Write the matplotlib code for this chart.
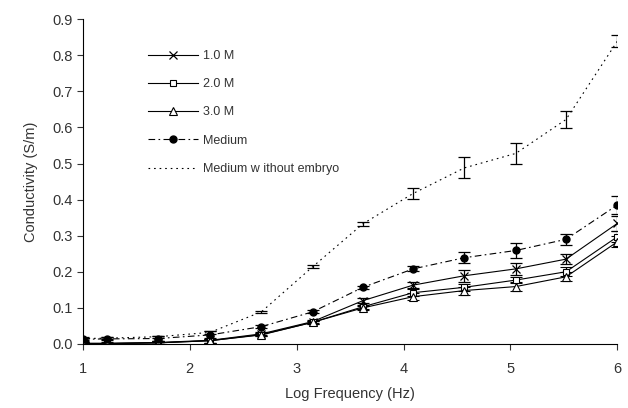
import numpy as np
import matplotlib.pyplot as plt

plt.rcParams['font.family'] = ['Liberation Sans', 'DejaVu Sans']

log_freq = [1.0, 1.23, 1.70, 2.19, 2.67, 3.15, 3.62, 4.09, 4.57, 5.05, 5.52, 6.0]

m10 = [0.002, 0.002, 0.004, 0.010, 0.028, 0.062, 0.120, 0.163, 0.189, 0.208, 0.235, 0.334]
m10_err = [0.004, 0.003, 0.004, 0.006, 0.004, 0.004, 0.006, 0.009, 0.016, 0.016, 0.014, 0.020]

m20 = [0.001, 0.001, 0.003, 0.009, 0.026, 0.060, 0.103, 0.142, 0.157, 0.177, 0.200, 0.297]
m20_err = [0.004, 0.003, 0.004, 0.005, 0.004, 0.004, 0.006, 0.009, 0.010, 0.009, 0.012, 0.015]

m30 = [0.001, 0.001, 0.003, 0.009, 0.025, 0.060, 0.100, 0.131, 0.148, 0.159, 0.186, 0.283]
m30_err = [0.004, 0.003, 0.004, 0.005, 0.004, 0.004, 0.006, 0.010, 0.011, 0.013, 0.012, 0.015]

medium = [0.013, 0.014, 0.015, 0.025, 0.048, 0.089, 0.157, 0.208, 0.239, 0.259, 0.290, 0.385]
medium_err = [0.004, 0.004, 0.006, 0.010, 0.005, 0.004, 0.004, 0.007, 0.015, 0.020, 0.015, 0.024]

no_embryo = [0.015, 0.016, 0.020, 0.032, 0.089, 0.214, 0.333, 0.417, 0.488, 0.528, 0.622, 0.839]
no_embryo_err = [0.003, 0.003, 0.003, 0.004, 0.003, 0.004, 0.006, 0.015, 0.029, 0.030, 0.024, 0.016]

fig = plt.figure(figsize=(6.28, 4.08), dpi=100)
ax = fig.add_axes([0.132, 0.157, 0.851, 0.796])

common = dict(color='black', lw=0.8, elinewidth=0.9, capsize=4, capthick=0.9)
c1 = ax.errorbar(log_freq, m10, yerr=m10_err, marker='x', ms=6, mew=0.9, **common)
c2 = ax.errorbar(log_freq, m20, yerr=m20_err, marker='s', ms=5, mfc='white', mew=0.8, **common)
c3 = ax.errorbar(log_freq, m30, yerr=m30_err, marker='^', ms=6, mfc='white', mew=0.8, **common)
c4 = ax.errorbar(log_freq, medium, yerr=medium_err, marker='o', ms=5,
                 ls=(0, (6, 3, 1.5, 3)), **common)
c5 = ax.errorbar(log_freq, no_embryo, yerr=no_embryo_err, marker='',
                 ls=(0, (1.5, 3.5)), **common)

ax.set_xlim(1, 6)
ax.set_ylim(0, 0.9)
ax.set_xticks([1, 2, 3, 4, 5, 6])
ax.set_yticks(np.arange(0, 0.91, 0.1))
ax.set_yticklabels([f'{v:.1f}' for v in np.arange(0, 0.91, 0.1)])
ax.spines['top'].set_visible(False)
ax.spines['right'].set_visible(False)
ax.tick_params(direction='out', length=4, width=0.8, labelsize=10.5, colors='#333333')
ax.tick_params(axis='x', pad=9)
ax.set_xlabel('Log Frequency (Hz)', fontsize=10.5, color='#333333', labelpad=8)
ax.set_ylabel('Conductivity (S/m)', fontsize=10.5, color='#333333', labelpad=10)

# legend shows only line + marker, no error bars
handles = [c[0] for c in (c1, c2, c3, c4, c5)]
labels = ['1.0 M', '2.0 M', '3.0 M', 'Medium', 'Medium w ithout embryo']
leg = ax.legend(handles, labels, loc='upper left', bbox_to_anchor=(0.1, 0.94),
                frameon=False, fontsize=9, handlelength=4.0, labelspacing=1.3,
                handletextpad=0.4)
for t in leg.get_texts():
    t.set_color('#333333')

fig.savefig('out.png', dpi=100)
